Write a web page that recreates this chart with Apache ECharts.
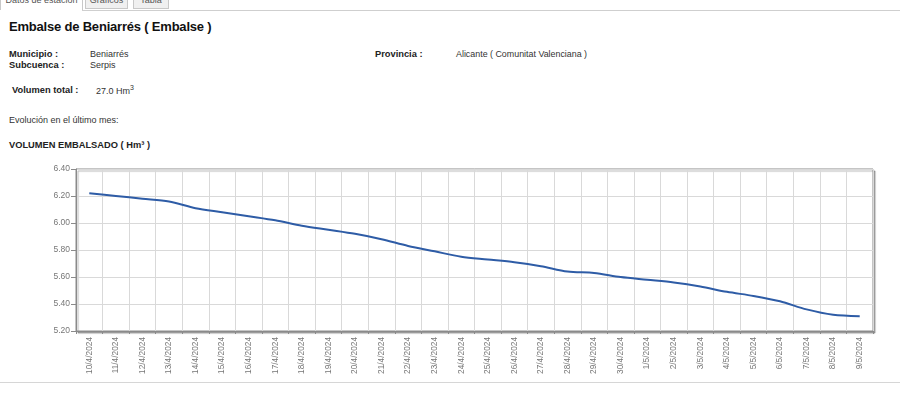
<!DOCTYPE html>
<html>
<head>
<meta charset="utf-8">
<script src="https://cdn.jsdelivr.net/npm/echarts@6/dist/echarts.min.js"></script>
<style>
  html, body { margin:0; padding:0; width:900px; height:416px; background:#fff; overflow:hidden; font-family:"Liberation Sans", Arial, sans-serif; color:#222; }
  .t { position:absolute; white-space:nowrap; }
  .tab { position:absolute; top:-12px; height:21px; border:1px solid #c8c8c8; box-sizing:border-box; font-size:9px; color:#555; text-align:center; line-height:14px; padding-top:4px; }
  #chart { position:absolute; left:0; top:0; width:900px; height:416px; }
</style>
</head>
<body>
<div style="position:absolute;left:82px;top:10px;width:818px;height:1px;background:#cfcfcf;"></div>
<div class="tab" style="left:0;width:83px;background:#fff;border-bottom:none;height:22px;">Datos de estación</div>
<div class="tab" style="left:85px;width:43px;background:#f0f0f0;">Gráficos</div>
<div class="tab" style="left:133px;width:36px;background:#f0f0f0;">Tabla</div>

<div class="t" style="left:9px;top:20px;font-size:13px;line-height:13px;font-weight:bold;letter-spacing:-0.2px;color:#111;">Embalse de Beniarrés ( Embalse )</div>

<div class="t" style="left:9px;top:49.5px;font-size:9.3px;line-height:9.3px;font-weight:bold;">Municipio :</div>
<div class="t" style="left:90px;top:49.5px;font-size:9px;line-height:9px;color:#333;">Beniarrés</div>
<div class="t" style="left:375px;top:49.5px;font-size:9.3px;line-height:9.3px;font-weight:bold;">Provincia :</div>
<div class="t" style="left:456px;top:49.5px;font-size:8.9px;line-height:9px;color:#333;">Alicante ( Comunitat Valenciana )</div>
<div class="t" style="left:9px;top:60.5px;font-size:9.3px;line-height:9.3px;font-weight:bold;">Subcuenca :</div>
<div class="t" style="left:90px;top:60.5px;font-size:9px;line-height:9px;color:#333;">Serpis</div>

<div class="t" style="left:12px;top:86px;font-size:9.3px;line-height:9.3px;font-weight:bold;">Volumen total :</div>
<div class="t" style="left:96px;top:86.5px;font-size:9px;line-height:9px;color:#333;">27.0 Hm<sup style="font-size:7px;vertical-align:4px;line-height:0;">3</sup></div>

<div class="t" style="left:9px;top:115.5px;font-size:9px;line-height:9px;color:#333;">Evolución en el último mes:</div>
<div class="t" style="left:9px;top:140.5px;font-size:9.3px;line-height:9.3px;font-weight:bold;">VOLUMEN EMBALSADO ( Hm³ )</div>

<div style="position:absolute;left:0;top:382px;width:900px;height:1px;background:#d6d6d6;"></div>

<div id="chart"></div>
<script>
const dates = ['10/4/2024','11/4/2024','12/4/2024','13/4/2024','14/4/2024','15/4/2024','16/4/2024','17/4/2024','18/4/2024','19/4/2024','20/4/2024','21/4/2024','22/4/2024','23/4/2024','24/4/2024','25/4/2024','26/4/2024','27/4/2024','28/4/2024','29/4/2024','30/4/2024','1/5/2024','2/5/2024','3/5/2024','4/5/2024','5/5/2024','6/5/2024','7/5/2024','8/5/2024','9/5/2024'];
const volumen = [6.22,6.20,6.18,6.16,6.11,6.08,6.05,6.02,5.98,5.95,5.92,5.88,5.83,5.79,5.75,5.73,5.71,5.68,5.64,5.63,5.60,5.58,5.56,5.53,5.49,5.46,5.42,5.36,5.32,5.31];
const yMin = 5.2, yMax = 6.4, yStep = 0.2;

const chart = echarts.init(document.getElementById('chart'), null, {renderer:'canvas'});
chart.setOption({
  animation:false,
  backgroundColor:'transparent',
  grid:{
    left:76, top:169, width:797, height:162,
    show:true, backgroundColor:'#fff', borderColor:'#8a8a8a', borderWidth:1,
    shadowColor:'rgba(0,0,0,0.3)', shadowBlur:1, shadowOffsetX:2, shadowOffsetY:2
  },
  xAxis:{
    type:'category', data:dates, boundaryGap:true,
    axisLine:{show:true, lineStyle:{color:'#8a8a8a', width:1}},
    axisTick:{show:true, length:3, lineStyle:{color:'#8a8a8a'}},
    axisLabel:{rotate:90, interval:0, fontSize:8.3, color:'#777', margin:6, fontFamily:'Liberation Sans'},
    splitLine:{show:true, interval:0, lineStyle:{color:'#d9d9d9', width:1}}
  },
  yAxis:{
    type:'value', min:yMin, max:yMax, interval:yStep,
    axisLine:{show:true, lineStyle:{color:'#8a8a8a', width:1}},
    axisTick:{show:true, length:5, lineStyle:{color:'#8a8a8a'}},
    axisLabel:{fontSize:8.5, color:'#777', margin:6, fontFamily:'Liberation Sans', formatter:v=>v.toFixed(2)},
    splitLine:{show:true, lineStyle:{color:'#d9d9d9', width:1}}
  },
  series:[{
    type:'line', data:volumen, smooth:0.3, showSymbol:false,
    lineStyle:{color:'#2e5ca6', width:2}
  }]
});
</script>
</body>
</html>
